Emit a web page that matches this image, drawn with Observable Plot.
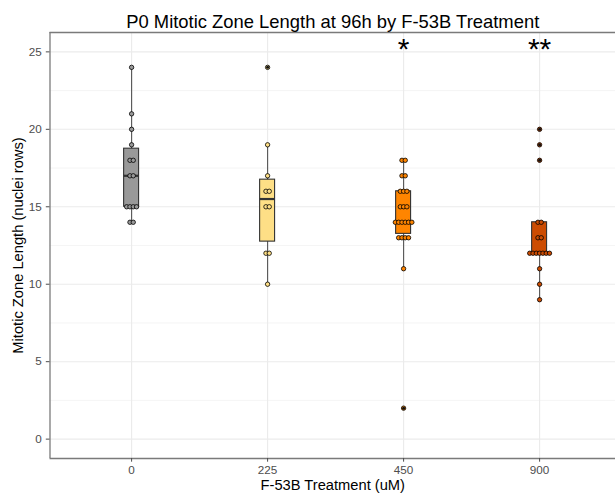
<!DOCTYPE html>
<html>
<head>
<meta charset="utf-8">
<script src="https://cdn.jsdelivr.net/npm/d3@7"></script>
<script src="https://cdn.jsdelivr.net/npm/@observablehq/plot@0.6"></script>
<style>
  html, body { margin: 0; padding: 0; background: #fff; }
  svg { display: block; }
</style>
</head>
<body>
<div id="chart"></div>
<script>
// ---- data ----
const treatments = ["0", "225", "450", "900"];
const fillColors = ["#999999", "#FEDF86", "#FF8500", "#CC4C02"];
const values0   = [24, 21, 20, 19, 18, 18, 17, 17, 15, 15, 15, 15, 14, 14];
const values225 = [24, 19, 17, 16, 16, 15, 15, 12, 12, 10];
const values450 = [18, 18, 17, 17, 16, 16, 16, 15, 15, 15, 14, 14, 14, 14, 14, 14, 13, 13, 13, 13, 11, 2];
const values900 = [20, 19, 18, 14, 14, 13, 13, 12, 12, 12, 12, 12, 12, 12, 11, 10, 9];
const sigLabels = ["", "", "*", "**"];
const sigValue = 25;
const yTicks = [0, 5, 10, 15, 20, 25];
const yMinorTicks = [2.5, 7.5, 12.5, 17.5, 22.5];

const groups = [values0, values225, values450, values900];

// ---- layout ----
const W = 615, H = 500;
const mL = 49.5, mT = 32, mB = 42;
const unitPx = 136;                       // px per category step
const xMin = -0.6, xMax = xMin + (W - mL) / unitPx;
const yMin = -1.25, yMax = 26.25;
const boxHalf = 0.055;
const dotStep = 3.3 / unitPx;

// ---- derived tables ----
const points = [];
const stats = [];
groups.forEach((vals, i) => {
  const counts = d3.rollup(vals, v => v.length, v => v);
  for (const [v, k] of counts) {
    for (let j = 0; j < k; j++) {
      points.push({g: i, v, x: i + (j - (k - 1) / 2) * dotStep});
    }
  }
  const s = vals.slice().sort(d3.ascending);
  const q1 = d3.quantile(s, 0.25), med = d3.quantile(s, 0.5), q3 = d3.quantile(s, 0.75);
  const iqr = q3 - q1;
  const inside = s.filter(v => v >= q1 - 1.5 * iqr && v <= q3 + 1.5 * iqr);
  const outliers = s.filter(v => v < q1 - 1.5 * iqr || v > q3 + 1.5 * iqr);
  stats.push({g: i, q1, med, q3, lo: d3.min(inside), hi: d3.max(inside), outliers});
});
const outlierPts = stats.flatMap(s => s.outliers.map(v => ({g: s.g, v})));
const sig = sigLabels.map((t, i) => ({g: i, t})).filter(d => d.t);

const font = "'Liberation Sans', Arial, Helvetica, sans-serif";

const chart = Plot.plot({
  width: W,
  height: H,
  marginLeft: mL,
  marginRight: 0,
  marginTop: mT,
  marginBottom: mB,
  style: {fontFamily: font, background: "#fff"},
  x: {type: "linear", domain: [xMin, xMax], axis: null},
  y: {domain: [yMin, yMax], axis: null},
  marks: [
    // grid
    Plot.ruleY(yMinorTicks, {stroke: "#EEEEEE", strokeWidth: 0.6}),
    Plot.ruleY(yTicks, {stroke: "#EBEBEB", strokeWidth: 1.1}),
    Plot.ruleX([0, 1, 2, 3], {stroke: "#EBEBEB", strokeWidth: 1.1}),
    // panel border (right side lies outside the image)
    Plot.ruleX([xMin], {stroke: "#7A7A7A", strokeWidth: 1.3}),
    Plot.ruleY([yMin, yMax], {stroke: "#7A7A7A", strokeWidth: 1.3}),
    // whiskers
    Plot.ruleX(stats, {x: "g", y1: "lo", y2: "hi", stroke: "#555555", strokeWidth: 1.1}),
    // boxes
    Plot.rect(stats, {x1: d => d.g - boxHalf, x2: d => d.g + boxHalf, y1: "q1", y2: "q3",
      fill: d => fillColors[d.g], stroke: "#333333", strokeWidth: 1.1}),
    Plot.ruleY(stats, {y: "med", x1: d => d.g - boxHalf, x2: d => d.g + boxHalf, stroke: "#333333", strokeWidth: 2.2}),
    // points
    Plot.dot(points, {x: "x", y: "v", r: 2.2, fill: d => fillColors[d.g], stroke: "#000", strokeWidth: 0.8}),
    // boxplot outliers
    Plot.dot(outlierPts, {x: "g", y: "v", r: 1.5, fill: "#111"}),
    // significance
    Plot.text(sig, {x: "g", y: () => sigValue, text: "t", fontSize: 30, dy: -2, fill: "#000"}),
    // axes
    Plot.axisY({ticks: yTicks, tickSize: 3.7, tickPadding: 4.5, fontSize: 11.7, color: "#4D4D4D", label: null}),
    Plot.axisX({ticks: [0, 1, 2, 3], tickFormat: i => treatments[i], tickSize: 3.7, tickPadding: 3, fontSize: 11.7, color: "#4D4D4D", label: null}),
    // titles
    Plot.text(["P0 Mitotic Zone Length at 96h by F-53B Treatment"], {text: d => d, frameAnchor: "top", dy: -17.5, fontSize: 18.4, fill: "#000"}),
    Plot.text(["F-53B Treatment (uM)"], {text: d => d, frameAnchor: "bottom", dy: 31, fontSize: 14.7, fill: "#000"}),
    Plot.text(["Mitotic Zone Length (nuclei rows)"], {text: d => d, frameAnchor: "left", textAnchor: "middle", rotate: -90, dx: -31.5, fontSize: 14.7, fill: "#000"})
  ]
});
document.getElementById("chart").appendChild(chart);
</script>
</body>
</html>
